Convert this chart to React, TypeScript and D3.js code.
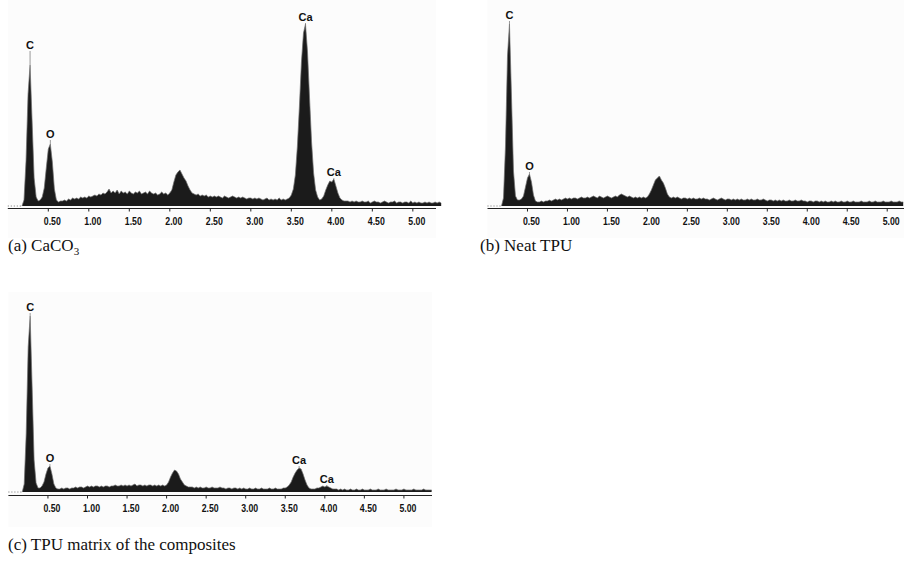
import React from 'react';
import * as d3 from 'd3';

// channel grid of the EDS spectra (keV)
const CHANNEL_START = 0.175;
const CHANNEL_STEP = 0.025;

const tickValues = [0.5, 1.0, 1.5, 2.0, 2.5, 3.0, 3.5, 4.0, 4.5, 5.0];
const tickLabels = ['0.50', '1.00', '1.50', '2.00', '2.50', '3.00', '3.50', '4.00', '4.50', '5.00'];

// counts (arbitrary units), one value per channel
const caco3Counts = [
  0, 6, 45, 112, 141, 85, 28, 9, 5, 6,
  9, 18, 38, 57, 62, 44, 17, 6, 4, 5,
  5, 6, 5, 7, 6, 8, 7, 8, 7, 9,
  8, 9, 8, 10, 9, 10, 11, 10, 12, 11,
  13, 12, 14, 17, 13, 15, 13, 16, 12, 15,
  13, 14, 12, 15, 13, 12, 14, 13, 15, 12,
  13, 14, 12, 15, 13, 12, 13, 11, 12, 14,
  12, 13, 11, 13, 16, 24, 31, 34, 36, 32,
  28, 25, 20, 16, 13, 12, 11, 12, 10, 11,
  10, 11, 9, 10, 9, 10, 9, 10, 9, 8,
  10, 9, 8, 9, 10, 9, 8, 9, 8, 9,
  8, 7, 8, 8, 7, 8, 7, 8, 7, 6,
  7, 8, 6, 7, 6, 7, 6, 8, 6, 7,
  6, 7, 8, 11, 17, 31, 60, 100, 144, 173,
  182, 154, 108, 64, 33, 16, 9, 6, 7, 10,
  16, 21, 25, 24, 27, 20, 13, 8, 6, 5,
  5, 5, 4, 5, 4, 5, 4, 4, 5, 4,
  4, 5, 3, 4, 5, 4, 4, 3, 4, 5,
  4, 3, 4, 4, 5, 3, 4, 4, 3, 4,
  4, 3, 5, 3, 4, 3, 4, 3, 3, 4,
  3, 4, 3, 3, 4, 3, 4, 3,
];

const neatTpuCounts = [
  0, 8, 60, 150, 182, 110, 35, 10, 6, 6,
  7, 10, 19, 28, 32, 24, 11, 5, 4, 4,
  5, 4, 5, 5, 6, 5, 6, 7, 6, 7,
  6, 7, 8, 7, 8, 7, 8, 8, 7, 8,
  9, 8, 8, 9, 8, 9, 10, 9, 8, 10,
  9, 8, 9, 10, 9, 8, 9, 10, 9, 11,
  12, 11, 10, 9, 10, 9, 8, 9, 8, 9,
  8, 9, 8, 9, 12, 16, 21, 26, 28, 30,
  26, 23, 18, 12, 9, 8, 9, 8, 9, 8,
  7, 8, 8, 7, 8, 7, 8, 7, 7, 8,
  7, 8, 7, 7, 6, 7, 8, 7, 6, 7,
  8, 7, 6, 7, 7, 6, 7, 6, 7, 6,
  7, 6, 6, 7, 6, 7, 6, 6, 7, 6,
  6, 7, 6, 5, 6, 6, 5, 6, 5, 6,
  5, 6, 5, 5, 6, 5, 5, 6, 5, 5,
  6, 5, 5, 4, 5, 5, 4, 5, 5, 4,
  5, 4, 5, 4, 4, 5, 4, 5, 4, 4,
  5, 4, 4, 5, 4, 4, 5, 4, 4, 4,
  5, 4, 4, 4, 5, 4, 4, 5, 4, 4,
  4, 5, 4, 4, 4, 5, 4, 4, 4, 5,
  4, 4,
];

const compositeCounts = [
  0, 8, 58, 145, 176, 105, 32, 9, 4, 4,
  6, 10, 18, 24, 26, 18, 8, 4, 3, 3,
  4, 3, 4, 4, 3, 4, 4, 5, 4, 5,
  5, 4, 5, 6, 5, 6, 5, 6, 6, 5,
  6, 5, 6, 6, 5, 6, 6, 7, 6, 6,
  7, 6, 7, 6, 7, 6, 7, 8, 6, 7,
  7, 6, 7, 6, 7, 7, 6, 7, 6, 7,
  6, 7, 6, 7, 10, 15, 19, 22, 21, 18,
  13, 10, 7, 6, 5, 5, 5, 4, 5, 4,
  5, 4, 4, 5, 4, 4, 5, 4, 4, 4,
  5, 4, 4, 3, 4, 4, 3, 4, 4, 3,
  4, 3, 4, 3, 3, 4, 3, 3, 4, 3,
  3, 4, 3, 3, 3, 4, 3, 3, 4, 3,
  3, 3, 4, 4, 5, 7, 10, 15, 19, 22,
  24, 23, 18, 12, 7, 4, 3, 3, 3, 4,
  4, 5, 6, 5, 6, 5, 4, 3, 3, 3,
  2, 3, 2, 3, 2, 2, 3, 2, 2, 3,
  2, 2, 3, 2, 2, 2, 3, 2, 2, 2,
  3, 2, 2, 2, 3, 2, 2, 2, 2, 3,
  2, 2, 2, 3, 2, 2, 2, 2, 3, 2,
  2, 2, 2, 3, 2, 2, 2, 2,
];

// element markers: energy (keV) and height of the label baseline
const caco3Peaks = [
  { el: 'C', kev: 0.275, level: 157 },
  { el: 'O', kev: 0.525, level: 68 },
  { el: 'Ca', kev: 3.675, level: 185 },
  { el: 'Ca', kev: 4.025, level: 30 },
];
const neatTpuPeaks = [
  { el: 'C', kev: 0.275, level: 187 },
  { el: 'O', kev: 0.525, level: 36 },
];
const compositePeaks = [
  { el: 'C', kev: 0.275, level: 181 },
  { el: 'O', kev: 0.525, level: 30 },
  { el: 'Ca', kev: 3.675, level: 28 },
  { el: 'Ca', kev: 4.025, level: 9 },
];

type Peak = { el: string; kev: number; level: number };

type SpectrumProps = {
  counts: number[];
  peaks: Peak[];
  x0: number;
  x1: number;
  kevMax: number;
  baseY: number;
  axisY: number;
  bgTop: number;
  bgBottom: number;
};

const Spectrum = ({ counts, peaks, x0, x1, kevMax, baseY, axisY, bgTop, bgBottom }: SpectrumProps) => {
  const x = d3.scaleLinear().domain([0, kevMax]).range([x0, x1]);
  const y = d3.scaleLinear().domain([0, 200]).range([baseY, baseY - 200]);

  const pts: [number, number][] = counts.map((c, i) => [CHANNEL_START + i * CHANNEL_STEP, c]);

  const area = d3.area<[number, number]>()
    .x(d => x(d[0]))
    .y0(baseY)
    .y1(d => y(d[1]));
  const line = d3.line<[number, number]>()
    .x(d => x(d[0]))
    .y(d => y(d[1]));

  const peakTop = (kev: number) => {
    const i = Math.round((kev - CHANNEL_START) / CHANNEL_STEP);
    return d3.max(counts.slice(Math.max(0, i - 1), i + 2)) || 0;
  };

  return (
    <g>
      <rect x={x0} y={bgTop} width={x1 - x0} height={bgBottom - bgTop} fill="#fcfcfc" />
      {/* dotted baseline before the spectrum starts */}
      <line x1={x0} x2={x(CHANNEL_START)} y1={baseY} y2={baseY}
        stroke="#777" strokeWidth={1} strokeDasharray="1,2" />
      <path d={area(pts) || ''} fill="#1b1b1b" />
      <path d={line(pts) || ''} fill="none" stroke="#6e6e6e" strokeWidth={0.7} />

      {/* axis */}
      <line x1={x0} x2={x1} y1={axisY} y2={axisY} stroke="#222" strokeWidth={1} />
      {tickValues.map((t, i) => (
        <g key={t}>
          <line x1={x(t)} x2={x(t)} y1={axisY} y2={axisY + 3} stroke="#222" strokeWidth={1} />
          <text x={x(t) + 4} y={axisY + 16} textAnchor="middle"
            fontFamily="Liberation Sans, Arial, sans-serif" fontWeight="bold" fontSize={11}
            textLength={17} lengthAdjust="spacingAndGlyphs" fill="#111">
            {tickLabels[i]}
          </text>
        </g>
      ))}

      {/* element markers */}
      {peaks.map((p, i) => (
        <g key={i}>
          <line x1={x(p.kev)} x2={x(p.kev)} y1={y(p.level) + 2} y2={y(peakTop(p.kev))}
            stroke="#999" strokeWidth={1} />
          <text x={x(p.kev)} y={y(p.level)} textAnchor="middle"
            fontFamily="Liberation Sans, Arial, sans-serif" fontWeight="bold" fontSize={11} fill="#111">
            {p.el}
          </text>
        </g>
      ))}
    </g>
  );
};

const captionFont = 'Liberation Serif, Times New Roman, serif';

export default function App() {
  return (
    <svg width={904} height={568} style={{ position: 'absolute', left: 0, top: 0, background: '#fff' }}>
      <Spectrum counts={caco3Counts} peaks={caco3Peaks} x0={7.8} x1={436} kevMax={5.286}
        baseY={206} axisY={208.5} bgTop={0} bgBottom={238} />
      <Spectrum counts={neatTpuCounts} peaks={neatTpuPeaks} x0={487.5} x1={904} kevMax={5.21}
        baseY={206} axisY={208.5} bgTop={0} bgBottom={238} />
      <Spectrum counts={compositeCounts} peaks={compositePeaks} x0={8.4} x1={432} kevMax={5.355}
        baseY={492} axisY={495.5} bgTop={292} bgBottom={527} />

      <text x={8} y={251} fontFamily={captionFont} fontSize={17} fill="#111">
        (a) CaCO<tspan fontSize={11} dy={4}>3</tspan>
      </text>
      <text x={480} y={251} fontFamily={captionFont} fontSize={17} fill="#111">
        (b) Neat TPU
      </text>
      <text x={8} y={550} fontFamily={captionFont} fontSize={17} fill="#111">
        (c) TPU matrix of the composites
      </text>
    </svg>
  );
}
